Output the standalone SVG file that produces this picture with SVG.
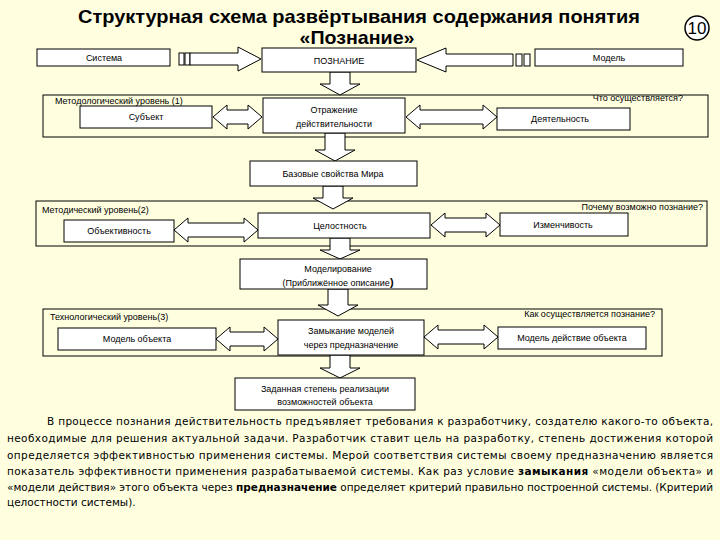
<svg xmlns="http://www.w3.org/2000/svg" width="720" height="540" viewBox="0 0 720 540">
<style>
.bx{fill:#fff;stroke:#000;stroke-width:1}
.lv{fill:none;stroke:#000;stroke-width:1}
.ar{fill:#fff;stroke:#000;stroke-width:1}
.t{font-family:"Liberation Sans",Arial,sans-serif;font-size:9px;fill:#000}
.c{text-anchor:middle}
.ttl{font-family:"Liberation Sans",Arial,sans-serif;font-size:19px;font-weight:bold;fill:#000;text-anchor:middle}
.p{font-family:"DejaVu Sans",Verdana,sans-serif;font-size:10.5px;fill:#000}
</style>
<rect width="720" height="540" fill="#FFFFE0"/>
<g id="title">
<text class="ttl" x="359" y="23" textLength="562" lengthAdjust="spacingAndGlyphs">Структурная схема развёртывания содержания понятия</text>
<text class="ttl" x="357" y="44" textLength="115" lengthAdjust="spacingAndGlyphs">«Познание»</text>
</g>
<g id="pagenum">
<circle cx="697" cy="28" r="12" fill="#fff" stroke="#000" stroke-width="1.5"/>
<text x="697" y="34" font-family="Liberation Sans Narrow,Liberation Sans,sans-serif" font-size="17" text-anchor="middle">10</text>
</g>
<g id="levels">
<rect id="level1" class="lv" x="43" y="95" width="665" height="42"/>
<rect id="level2" class="lv" x="36" y="201" width="671" height="45"/>
<rect id="level3" class="lv" x="43" y="309" width="619" height="47"/>
<text class="t" x="55" y="104">Методологический уровень (1)</text>
<text class="t" x="683" y="101" text-anchor="end">Что осуществляется?</text>
<text class="t" x="42" y="213">Методический уровень(2)</text>
<text class="t" x="703" y="210" text-anchor="end">Почему возможно познание?</text>
<text class="t" x="50" y="320">Технологический уровень(3)</text>
<text class="t" x="655" y="317" text-anchor="end">Как осуществляется познание?</text>
</g>
<g id="connectors">
<rect class="ar" x="179" y="53" width="5" height="12"/>
<rect class="ar" x="185" y="53" width="5" height="12"/>
<polygon class="ar" points="190,53 238,53 238,47 261,59 238,71 238,65 190,65"/>
<rect class="ar" x="516" y="54" width="6" height="12"/>
<rect class="ar" x="524" y="54" width="6" height="12"/>
<polygon class="ar" points="513,54 446,54 446,48 417,60 446,72 446,66 513,66"/>
<polygon class="ar" points="330,72 350,72 350,84 360,84 340,95 320,84 330,84"/>
<polygon class="ar" points="213,117 227,105 227,110 248,110 248,105 262,117 248,129 248,124 227,124 227,129"/>
<polygon class="ar" points="406,117 420,105 420,110 483,110 483,105 497,117 483,129 483,124 420,124 420,129"/>
<polygon class="ar" points="325,133 345,133 345,150 355,150 335,161 315,150 325,150"/>
<polygon class="ar" points="323,186 343,186 343,198 353,198 333,209 313,198 323,198"/>
<polygon class="ar" points="174,230 188,218 188,223 244,223 244,218 258,230 244,242 244,237 188,237 188,242"/>
<polygon class="ar" points="431,225 445,213 445,218 486,218 486,213 500,225 486,237 486,232 445,232 445,237"/>
<polygon class="ar" points="330,238 350,238 350,250 360,250 340,259 320,250 330,250"/>
<polygon class="ar" points="328,289 348,289 348,305 358,305 338,316 318,305 328,305"/>
<polygon class="ar" points="216,339 230,327 230,332 264,332 264,327 278,339 264,351 264,346 230,346 230,351"/>
<polygon class="ar" points="424,337 438,325 438,330 484,330 484,325 498,337 484,349 484,344 438,344 438,349"/>
<polygon class="ar" points="330,355 350,355 350,368 360,368 340,378 320,368 330,368"/>
</g>
<g id="n-sistema"><rect class="bx" x="37" y="49" width="133" height="17"/><text class="t c" x="104" y="61">Система</text></g>
<g id="n-poznanie"><rect class="bx" x="262" y="48" width="154" height="24"/><text class="t c" x="339" y="64">ПОЗНАНИЕ</text></g>
<g id="n-model"><rect class="bx" x="535" y="49" width="148" height="17"/><text class="t c" x="609" y="61">Модель</text></g>
<g id="n-subekt"><rect class="bx" x="80" y="106" width="132" height="22"/><text class="t c" x="146" y="120">Субъект</text></g>
<g id="n-otrazhenie"><rect class="bx" x="263" y="98" width="142" height="35"/><text class="t c" x="334" y="113">Отражение</text><text class="t c" x="334" y="127">действительности</text></g>
<g id="n-deyatelnost"><rect class="bx" x="497" y="108" width="133" height="22"/><text class="t c" x="560" y="122">Деятельность</text></g>
<g id="n-bazovye"><rect class="bx" x="250" y="161" width="167" height="25"/><text class="t c" x="333" y="177">Базовые свойства Мира</text></g>
<g id="n-obektivnost"><rect class="bx" x="64" y="220" width="110" height="22"/><text class="t c" x="119" y="234">Объективность</text></g>
<g id="n-tselostnost"><rect class="bx" x="258" y="213" width="172" height="25"/><text class="t c" x="340" y="229">Целостность</text></g>
<g id="n-izmenchivost"><rect class="bx" x="500" y="213" width="128" height="23"/><text class="t c" x="563" y="228">Изменчивость</text></g>
<g id="n-modelirovanie"><rect class="bx" x="240" y="259" width="187" height="30"/><text class="t c" x="338" y="272">Моделирование</text><text class="t c" x="338" y="286">(Приближённое описание<tspan font-size="11" font-weight="bold">)</tspan></text></g>
<g id="n-model-obekta"><rect class="bx" x="58" y="328" width="158" height="22"/><text class="t c" x="137" y="342">Модель объекта</text></g>
<g id="n-zamykanie"><rect class="bx" x="278" y="320" width="146" height="35"/><text class="t c" x="351" y="334">Замыкание моделей</text><text class="t c" x="351" y="348">через предназначение</text></g>
<g id="n-model-deystvie"><rect class="bx" x="498" y="327" width="148" height="22"/><text class="t c" x="572" y="341">Модель действие объекта</text></g>
<g id="n-zadannaya"><rect class="bx" x="235" y="378" width="180" height="32"/><text class="t c" x="325" y="392">Заданная степень реализации</text><text class="t c" x="325" y="405">возможностей объекта</text></g>
<g id="paragraph">
<text class="p" x="47" y="425" textLength="666" lengthAdjust="spacing">В процессе познания действительность предъявляет требования к разработчику, создателю какого-то объекта,</text>
<text class="p" x="7" y="442" textLength="706" lengthAdjust="spacing">необходимые для решения актуальной задачи. Разработчик ставит цель на разработку, степень достижения которой</text>
<text class="p" x="7" y="459" textLength="706" lengthAdjust="spacing">определяется эффективностью применения системы. Мерой соответствия системы своему предназначению является</text>
<text class="p" x="7" y="475" textLength="706" lengthAdjust="spacing">показатель эффективности применения разрабатываемой системы. Как раз условие <tspan font-weight="bold">замыкания</tspan> «модели объекта» и</text>
<text class="p" x="7" y="491" textLength="706" lengthAdjust="spacing">«модели действия» этого объекта через <tspan font-weight="bold">предназначение</tspan> определяет критерий правильно построенной системы. (Критерий</text>
<text class="p" x="7" y="506">целостности системы).</text>
</g>
</svg>
